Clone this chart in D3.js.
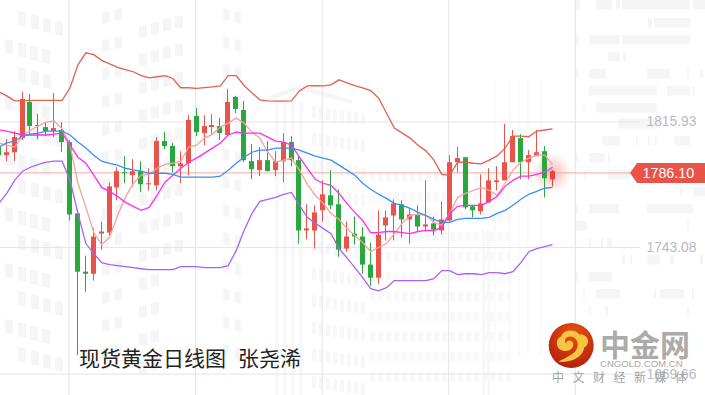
<!DOCTYPE html>
<html>
<head>
<meta charset="utf-8">
<script src="https://cdn.jsdelivr.net/npm/d3@7"></script>
<style>
  html, body { margin: 0; padding: 0; background: #fff; }
  svg { display: block; }
  .price-axis text { font-family: "Liberation Sans", Arial, sans-serif; font-size: 13.8px; fill: #b9b9c5; }
  .price-axis line { stroke: #e4e4ea; }
  .time-axis line { stroke: #e2e2ea; }
  .price-axis path, .time-axis path { display: none; }
</style>
</head>
<body>
<svg id="chart" width="705" height="395"></svg>
<script>
// candle values, first one sits just off the left edge (index -1)
const opens = [1801.1,1796.4,1798.1,1806.3,1827.3,1813.9,1812.7,1810.4,1811.0,1804.0,1762.6,1728.8,1727.6,1750.9,1751.5,1777.7,1786.5,1784.8,1787.1,1779.5,1778.9,1804.6,1801.7,1790.0,1791.7,1819.1,1809.2,1812.7,1813.3,1808.1,1830.2,1822.6,1792.9,1787.7,1793.5,1787.7,1792.9,1804.0,1793.5,1752.7,1752.7,1764.4,1773.1,1767.9,1742.2,1750.9,1749.2,1732.9,1725.3,1755.6,1761.4,1767.9,1759.1,1762.0,1755.0,1756.8,1752.7,1758.5,1792.3,1795.2,1766.7,1763.8,1769.0,1780.7,1781.8,1792.3,1806.3,1792.3,1795.8,1798.7,1782.4];
const closes = [1796.4,1798.1,1806.9,1829.0,1813.3,1813.3,1810.4,1812.1,1804.0,1762.0,1728.8,1727.6,1749.2,1752.1,1778.3,1787.1,1785.9,1787.1,1779.5,1780.1,1804.6,1801.7,1790.0,1791.7,1816.8,1809.8,1813.3,1813.9,1809.2,1827.3,1823.2,1793.5,1788.2,1793.5,1787.1,1792.9,1804.0,1793.5,1752.7,1753.9,1763.2,1773.7,1767.3,1741.6,1749.2,1749.2,1732.9,1725.3,1750.3,1760.3,1768.4,1759.1,1762.0,1755.0,1756.2,1753.3,1759.1,1792.3,1794.7,1766.1,1764.4,1768.4,1781.8,1781.8,1792.3,1807.5,1792.3,1796.4,1798.1,1783.0,1787.1];
const highs = [1803.5,1805.8,1810.4,1833.1,1831.9,1820.3,1815.6,1832.5,1815.6,1805.2,1764.9,1738.1,1753.9,1757.9,1780.7,1789.4,1795.8,1794.1,1792.9,1788.8,1806.9,1809.8,1803.5,1798.7,1819.7,1823.8,1819.7,1820.3,1818.0,1834.9,1830.8,1827.9,1802.8,1801.1,1804.6,1798.7,1809.2,1807.5,1796.4,1767.9,1767.3,1781.8,1787.7,1776.6,1757.9,1760.8,1754.5,1745.7,1764.4,1764.4,1770.8,1770.2,1765.5,1767.3,1781.8,1760.8,1769.6,1796.4,1801.1,1795.2,1767.3,1785.3,1788.8,1790.0,1814.5,1811.0,1808.6,1799.3,1811.0,1801.7,1787.7];
const lows = [1794.7,1792.9,1792.9,1805.2,1808.1,1805.7,1807.5,1806.9,1798.1,1758.5,1680.4,1717.1,1723.6,1741.6,1749.8,1770.2,1780.1,1778.3,1774.8,1776.0,1776.0,1799.9,1786.5,1780.1,1784.8,1807.5,1802.2,1808.1,1805.2,1807.5,1820.9,1792.3,1782.4,1784.2,1787.1,1784.2,1780.6,1790.0,1745.1,1747.5,1742.2,1757.9,1765.0,1737.5,1740.4,1744.5,1727.6,1720.6,1721.8,1746.9,1746.9,1748.6,1745.1,1752.1,1752.1,1749.8,1750.3,1757.9,1786.5,1765.0,1760.3,1762.0,1769.0,1776.0,1781.8,1792.3,1782.4,1782.4,1795.8,1771.9,1778.3];

// bands and moving averages
const upperBand = [1833.1,1830.8,1827.9,1828.1,1828.2,1828.2,1828.2,1828.2,1828.2,1835.5,1848.8,1855.8,1854.7,1851.4,1849.4,1847.3,1846.0,1844.8,1842.6,1841.3,1841.9,1842.5,1840.9,1835.5,1835.5,1835.1,1835.6,1836.0,1836.6,1842.5,1842.5,1836.8,1832.5,1828.5,1827.9,1827.7,1827.7,1827.9,1833.7,1836.6,1836.8,1836.6,1837.2,1840.1,1838.4,1836.8,1835.5,1833.9,1829.6,1820.9,1812.1,1809.2,1806.3,1802.2,1798.9,1793.5,1785.3,1784.7,1792.3,1792.3,1791.7,1791.3,1793.5,1796.0,1800.5,1807.5,1807.5,1807.1,1810.4,1811.0,1811.6];
const ma5 = [1803.5,1802.2,1801.1,1807.5,1811.0,1813.3,1815.6,1816.2,1811.6,1802.2,1780.1,1766.1,1751.5,1744.5,1748.6,1761.4,1771.9,1780.1,1784.8,1785.3,1788.8,1791.1,1791.7,1792.9,1801.1,1802.2,1806.3,1808.6,1812.7,1815.0,1817.9,1815.0,1809.8,1806.3,1798.1,1792.3,1793.5,1794.7,1787.7,1779.5,1773.1,1768.4,1762.6,1759.1,1753.9,1749.8,1745.7,1740.4,1742.8,1745.1,1750.9,1756.8,1761.4,1762.0,1761.4,1757.4,1755.6,1762.6,1771.9,1774.2,1776.0,1777.7,1776.0,1773.1,1780.1,1787.7,1792.3,1794.7,1796.4,1796.4,1791.1];
const ma20 = [1811.0,1810.4,1809.2,1808.1,1808.1,1808.1,1808.1,1808.6,1809.2,1802.2,1795.2,1791.7,1784.8,1777.7,1775.4,1772.5,1769.0,1766.7,1764.4,1766.1,1773.1,1780.7,1784.8,1788.8,1792.3,1794.7,1797.6,1800.5,1803.5,1808.1,1809.8,1809.2,1809.2,1809.2,1806.9,1804.6,1804.0,1802.2,1795.2,1788.8,1782.4,1780.1,1778.9,1774.2,1768.4,1763.2,1758.5,1751.5,1751.5,1752.1,1752.1,1751.5,1750.9,1752.1,1752.7,1752.7,1754.5,1762.6,1766.7,1767.3,1767.3,1767.3,1769.6,1772.5,1778.3,1781.8,1784.2,1784.2,1785.3,1786.5,1789.4];
const ma60 = [1801.1,1803.5,1804.6,1807.5,1808.6,1809.2,1810.4,1810.4,1810.4,1808.1,1804.0,1800.5,1796.4,1792.9,1791.7,1790.6,1788.8,1787.9,1787.1,1785.9,1785.9,1785.9,1785.3,1783.6,1783.6,1783.6,1783.6,1783.6,1784.2,1787.7,1791.7,1795.2,1798.1,1799.3,1799.3,1800.5,1800.5,1800.5,1799.3,1797.6,1795.8,1794.7,1793.5,1790.6,1787.7,1784.8,1780.1,1776.6,1773.7,1771.3,1768.4,1767.3,1765.5,1763.2,1761.4,1759.1,1757.4,1757.4,1759.1,1759.7,1759.7,1759.7,1760.3,1762.6,1764.4,1767.3,1770.8,1773.7,1775.4,1777.2,1777.7];
const lowerBand = [1768.4,1774.2,1781.8,1787.1,1789.4,1791.1,1792.3,1792.9,1792.9,1781.8,1762.6,1745.1,1739.3,1734.0,1732.9,1732.3,1731.7,1731.1,1730.5,1730.0,1730.0,1730.0,1730.0,1731.7,1731.7,1731.7,1731.1,1731.1,1731.1,1732.3,1741.0,1752.7,1762.6,1769.6,1770.8,1771.9,1773.7,1774.8,1767.3,1760.3,1756.8,1753.9,1750.9,1742.2,1736.9,1731.1,1725.3,1718.9,1717.7,1719.5,1723.6,1723.6,1723.6,1723.6,1723.6,1724.7,1729.4,1729.4,1727.1,1727.6,1727.6,1727.1,1728.2,1728.2,1727.6,1728.8,1734.0,1740.4,1742.2,1743.4,1744.5];

const priceTicks = [1815.93, 1743.08, 1669.66];
const timeTicks = [8, 24, 40, 56, 72];   // every 16 candles
const lastPrice = 1786.10;
const titleLeft = '现货黄金日线图';
const titleRight = '张尧浠';

const width = 705, height = 395;
const cjk = '"Noto Sans CJK SC", "Noto Sans", sans-serif';
const latin = '"Liberation Sans", Arial, sans-serif';

const svg = d3.select('#chart');

const xScale = d3.scaleLinear().domain([-1, 69]).range([-1.66, 552.04]);
const yScale = d3.scaleLinear().domain([1815.93, 1669.66]).range([121.5, 373.6]);
const candles = opens.map((o, i) => ({ i: i - 1, o, c: closes[i], h: highs[i], l: lows[i] }));

// pale building watermark behind the chart
const mark = svg.append('g').attr('fill', '#f5f5f8');
function tile(x, y, w, h, slope) {
  mark.append('path').attr('d', `M${x},${y}l${w},${slope}v${h}l${-w},${-slope}z`);
}
// left wing falling to the right, tile rows repeat down the page
d3.range(0, 13).forEach(r => {
  const y0 = 11 + r * 28;
  [18, 31, 43, 55].forEach((x, k) => { if (r !== 2 || k < 3) tile(x - (r % 2) * 13, y0 + k * 3.2, 8, 14, 1.5); });
  [102, 115].forEach((x, k) => tile(x, y0 - k * 3 + 1, 7, 12, -1));
  [139, 151, 163, 175].forEach((x, k) => { if (r < 9 || k < 2) tile(x, y0 + 15 - k * 3.2, 8, 12, -1); });
  [223, 235].forEach((x, k) => tile(x, y0 - 3 + k * 3, 6, 12, 1));
});
// centre building with pillars and a roof
[275, 283, 291, 299].forEach(x => mark.append('rect').attr('x', x).attr('y', 102).attr('width', 4).attr('height', 293).attr('fill', '#f8f8fa'));
mark.append('path').attr('d', 'M269,96L300,85L352,100L352,104L300,90L273,99z');
d3.range(0, 11).forEach(r => d3.range(0, 8).forEach(k => {
  mark.append('rect').attr('x', 312 + k * 7).attr('y', 106 + r * 27 + k).attr('width', 4).attr('height', 12).attr('fill', '#f7f7f9');
}));
// small tiles and tall strips, lower middle
d3.range(0, 11).forEach(r => d3.range(0, 18).forEach(k => {
  const x = 370 + k * 8, y = 172 + r * 20;
  if (!(r < 2 && k > 9 && k < 13)) mark.append('rect').attr('x', x).attr('y', y).attr('width', 5).attr('height', 9).attr('fill', '#f8f8fa');
}));
[494, 509, 518, 527, 540].forEach(x => mark.append('rect').attr('x', x).attr('y', 80).attr('width', 1.5).attr('height', 275).attr('fill', '#f8f8fa'));
[482, 487].forEach(x => mark.append('rect').attr('x', x).attr('y', 230).attr('width', 3).attr('height', 165).attr('fill', '#f8f8fa'));
// right block of floors, [x, y, w]
[[576,0,4],[596,0,16],[616,0,4],[622,0,68],[693,0,12],[648,18,4],[654,18,36],[576,35,3],[589,35,30],[622,35,68],[608,52,12],[623,52,3],
 [576,69,2],[589,69,17],[647,69,23],[687,69,2],[700,69,3],[589,86,68],[667,86,23],[693,86,2],[583,103,2],[596,103,61],[618,119,42],
 [602,136,18],[636,136,2],[648,136,2],[655,136,2],[674,136,16],[576,153,2],[589,153,16],[608,153,2],[584,170,2],[608,170,22],[680,187,2],[693,187,12],
 [576,204,2],[589,204,30],[647,204,46],[576,221,11],[687,221,2],[589,238,2],[601,238,2],[607,238,5],[622,255,3],[630,255,2],[647,255,13],[670,255,4],[700,255,3],
 [576,272,2],[589,272,23],[583,289,2],[596,289,24],[654,289,2],[660,289,24],[692,289,2],[589,306,2],[605,306,3],[687,306,2]]
  .forEach(b => mark.append('rect').attr('x', b[0]).attr('y', b[1]).attr('width', b[2]).attr('height', 9.5));

// grid comes from the axes, drawn with full length ticks
svg.append('g').attr('class', 'time-axis')
  .attr('transform', `translate(-1,${height})`)
  .call(d3.axisBottom(xScale).tickValues(timeTicks).tickSize(-height).tickFormat(''));
svg.append('g').attr('class', 'price-axis')
  .call(d3.axisRight(yScale).tickValues(priceTicks).tickSize(640).tickPadding(6.5).tickFormat(d3.format('.2f')));

// glow behind the last candle
const defs = svg.append('defs');
const glow = defs.append('radialGradient').attr('id', 'glow');
glow.append('stop').attr('offset', '0%').attr('stop-color', '#e9544a').attr('stop-opacity', 0.4);
glow.append('stop').attr('offset', '100%').attr('stop-color', '#e9544a').attr('stop-opacity', 0);
svg.append('circle')
  .attr('cx', xScale(69)).attr('cy', yScale(lastPrice)).attr('r', 20)
  .attr('fill', 'url(#glow)');

// last price line and tag
svg.append('line')
  .attr('x1', 0).attr('x2', 632)
  .attr('y1', yScale(lastPrice)).attr('y2', yScale(lastPrice))
  .attr('stroke', '#f2aaa3').attr('stroke-width', 1);

const upColor = '#e9544a', downColor = '#29a83d';
const colorOf = d => d.i === 69 ? '#ef3f3f' : (d.c >= d.o ? upColor : downColor);

const candle = svg.append('g').selectAll('g').data(candles).join('g')
  .attr('transform', d => `translate(${Math.floor(xScale(d.i))},0)`);
candle.append('line')
  .attr('x1', 0.5).attr('x2', 0.5)
  .attr('y1', d => yScale(d.h)).attr('y2', d => yScale(d.l))
  .attr('stroke', colorOf);
candle.append('rect')
  .attr('x', -2).attr('width', 5)
  .attr('y', d => yScale(Math.max(d.o, d.c)))
  .attr('height', d => Math.max(1, Math.abs(yScale(d.o) - yScale(d.c))))
  .attr('fill', colorOf);

const lineGen = d3.line().x((d, i) => xScale(i - 1) + 0.5).y(d => yScale(d));
[[upperBand, '#e2624e'], [ma5, '#f9a19b'], [ma20, '#ff2cf2'], [ma60, '#3a90f0'], [lowerBand, '#a862f5']].forEach(s => {
  svg.append('path').datum(s[0])
    .attr('d', lineGen)
    .attr('fill', 'none').attr('stroke', s[1]).attr('stroke-width', 1.3);
});

const tagY = yScale(lastPrice);
svg.append('path')
  .attr('d', `M630,${tagY}L637,${tagY - 10}H705V${tagY + 10}H637Z`)
  .attr('fill', '#e9544a');
svg.append('text')
  .attr('x', 642.5).attr('y', tagY + 5)
  .attr('font-family', latin).attr('font-size', 14.3).attr('fill', '#fff')
  .text(d3.format('.2f')(lastPrice));

const title = svg.append('text')
  .attr('x', 79).attr('y', 366)
  .attr('font-family', cjk).attr('font-size', 21).attr('fill', '#222');
title.append('tspan').text(titleLeft);
title.append('tspan').attr('dx', 12).text(titleRight);

// logo bottom right
const logoFill = defs.append('radialGradient').attr('id', 'logoFill')
  .attr('cx', '55%').attr('cy', '25%').attr('r', '75%');
logoFill.append('stop').attr('offset', '0%').attr('stop-color', '#e9520f');
logoFill.append('stop').attr('offset', '100%').attr('stop-color', '#b3200f');
const logo = svg.append('g').attr('transform', 'translate(571.2,345.5)');
logo.append('circle').attr('r', 22.5).attr('fill', 'url(#logoFill)');
logo.append('path')
  .attr('d', 'M-13,16C-2,18 12,12 13,2C20,-2 17,-12 8,-11C4,-17 -8,-16 -10,-9C-16,-7 -16,3 -9,5C-3,7 3,3 2,-2C1,-6 -5,-6 -5,-2C-9,-7 -2,-11 3,-8C9,-4 7,6 0,9C-4,12 -9,14 -13,16Z')
  .attr('fill', '#f7c544');

svg.append('text')
  .attr('x', 600).attr('y', 356)
  .attr('font-family', cjk).attr('font-weight', 700).attr('font-size', 30).attr('fill', '#ababab')
  .text('中金网');
svg.append('text')
  .attr('x', 600).attr('y', 366.5)
  .attr('font-family', latin).attr('font-size', 9.6).attr('fill', '#a8a8a8')
  .text('CNGOLD.COM.CN');
svg.append('text')
  .attr('x', 552).attr('y', 381.5)
  .attr('font-family', cjk).attr('font-size', 12).attr('fill', '#a3a3a3').attr('letter-spacing', 8.5)
  .text('中文财经新媒体');
</script>
</body>
</html>
